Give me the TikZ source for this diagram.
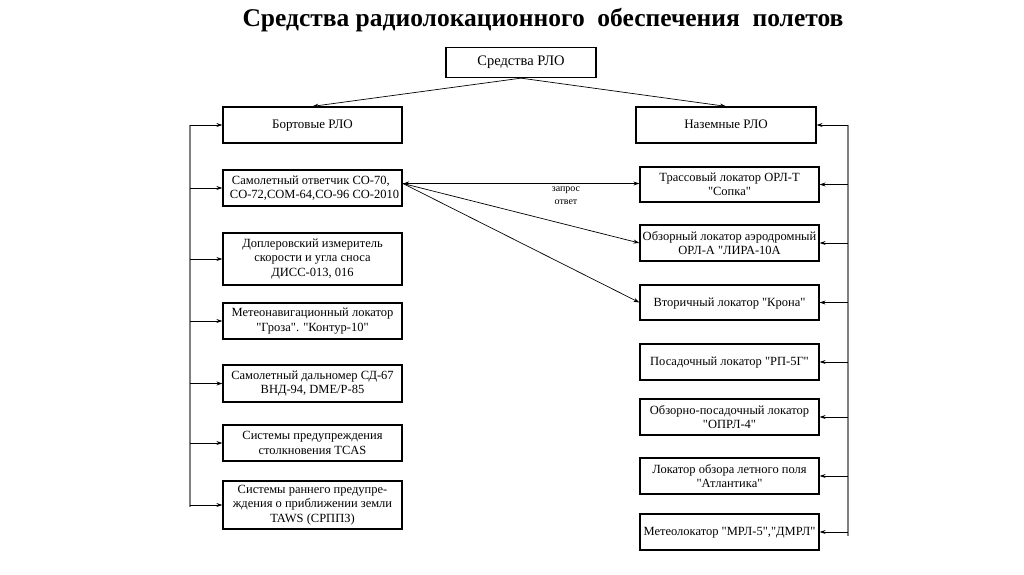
\documentclass[tikz,border=0pt]{standalone}
\usepackage{fontspec}
\setmainfont{Liberation Serif}
\newfontfamily\tnr{Liberation Serif}
\usetikzlibrary{arrows.meta}
\begin{document}
\begin{tikzpicture}[x=1pt,y=-1pt,
  box/.style={draw=black, line width=1.3pt, minimum width=179pt, minimum height=36pt, inner sep=1pt, align=center, font=\tnr\fontsize{12.5}{14.5}\selectfont},
  arr/.style={line width=0.7pt, -{Stealth[length=6pt,width=4pt]}},
  bus/.style={draw=gray, line width=1.2pt},
  lbl/.style={font=\tnr\fontsize{10}{11}\selectfont, inner sep=0pt}]
\useasboundingbox (0,0) rectangle (1024,574);
\node[font=\tnr\fontsize{25.5}{29}\bfseries] (title) at (543,20) {Средства радиолокационного~~обеспечения~~полетов};
\node[box, minimum width=150pt, minimum height=30pt, font=\tnr\fontsize{14.5}{16}\selectfont] (top) at (521,62.5) {Средства РЛО};
\node[box, font=\tnr\fontsize{13}{15}\selectfont, text depth=1pt] (bort) at (312.5,125) {Бортовые РЛО};
\node[box, minimum width=180pt, font=\tnr\fontsize{13}{15}\selectfont, text depth=1pt] (nazem) at (726,125) {Наземные РЛО};
% left column
\node[box, align=left] (L1) at (312.5,188) {\hspace*{6pt}Самолетный ответчик СО-70,\\\hspace*{4pt}СО-72,СОМ-64,СО-96 СО-2010};
\node[box, minimum height=52pt] (L2) at (312.5,259) {Доплеровский измеритель\\скорости и угла сноса\\ДИСС-013, 016};
\node[box] (L3) at (312.5,321) {Метеонавигационный локатор\\"Гроза". "Контур-10"};
\node[box, minimum height=37pt] (L4) at (312.5,383.5) {Самолетный дальномер СД-67\\ВНД-94, DME/P-85};
\node[box] (L5) at (312.5,443) {Системы предупреждения\\столкновения TCAS};
\node[box, minimum height=48pt] (L6) at (312.5,505) {Системы раннего предупре-\\ждения о приближении земли\\TAWS (СРППЗ)};
% right column
\node[box, minimum height=35pt] (R1) at (729.5,184.5) {Трассовый локатор ОРЛ-Т\\"Сопка"};
\node[box] (R2) at (729.5,243) {Обзорный локатор аэродромный\\ОРЛ-А "ЛИРА-10А};
\node[box, minimum height=35pt, text depth=1pt] (R3) at (729.5,302.5) {Вторичный локатор "Крона"};
\node[box, text depth=1pt] (R4) at (729.5,362) {Посадочный локатор "РП-5Г"};
\node[box] (R5) at (729.5,417) {Обзорно-посадочный локатор\\"ОПРЛ-4"};
\node[box] (R6) at (729.5,476) {Локатор обзора летного поля\\"Атлантика"};
\node[box, text depth=1pt] (R7) at (729.5,532) {Метеолокатор "МРЛ-5","ДМРЛ"};
% top arrows
\draw[arr] (top.south) -- (bort.north);
\draw[arr] (top.south) -- (nazem.north);
% left bus
\coordinate (lt) at (190,125);
\coordinate (lb) at (190,507);
\draw[bus] (lt) -- (lb);
\foreach \n in {bort,L1,L2,L3,L4,L5,L6}{\draw[arr] (lt |- \n.west) -- (\n.west);}
% right bus
\coordinate (rt) at (848,125);
\coordinate (rb) at (848,536);
\draw[bus] (rt) -- (rb);
\foreach \n in {nazem,R1,R2,R3,R4,R5,R6,R7}{\draw[arr] (rt |- \n.east) -- (\n.east);}
% request/response links
\coordinate (sa) at (403,183.5);
\draw[arr, {Stealth[length=6pt,width=4pt]}-{Stealth[length=6pt,width=4pt]}] (sa) -- (R1.west |- sa);
\draw[arr] (sa) -- (R2.west);
\draw[arr] (sa) -- (R3.west);
\node[lbl] (q) at (566,190) {запрос};
\node[lbl] (a) at (566,202) {ответ};
\end{tikzpicture}
\end{document}
